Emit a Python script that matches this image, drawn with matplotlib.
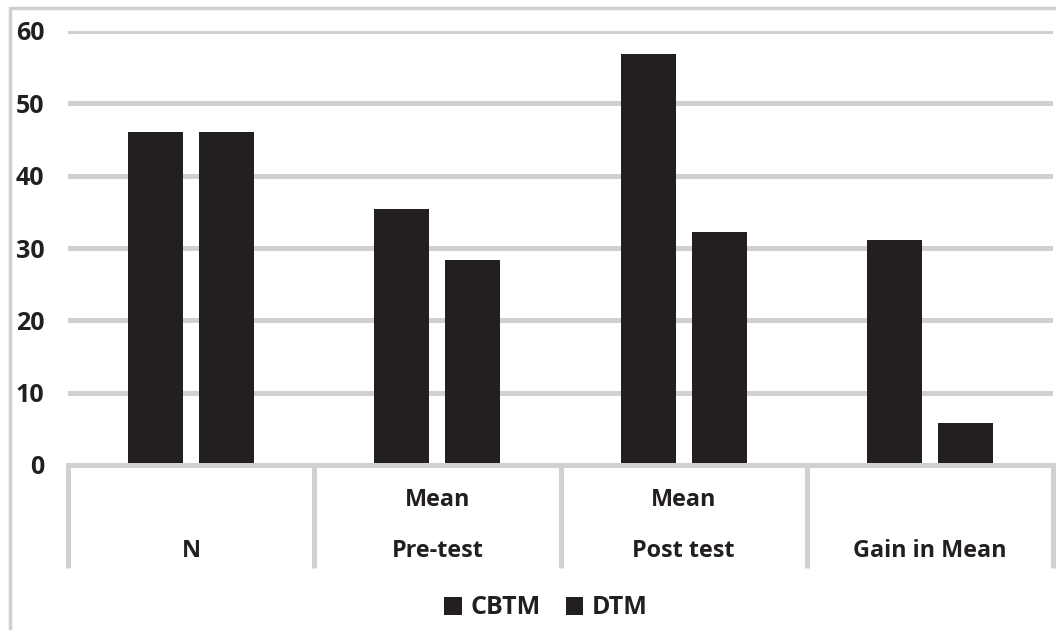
import matplotlib
matplotlib.use("Agg")
import matplotlib.pyplot as plt
from matplotlib.patches import Patch, Rectangle
import numpy as np

cat_top = ["", "Mean", "Mean", ""]
cat_bottom = ["N", "Pre-test", "Post test", "Gain in Mean"]
series_names = ["CBTM", "DTM"]
cbtm = [46, 35.4, 56.8, 31.1]
dtm = [46, 28.4, 32.2, 5.8]
yticks = [0, 10, 20, 30, 40, 50, 60]

plt.rcParams['font.family'] = ['Open Sans', 'DejaVu Sans']
bar_color = "#231F20"
grid_color = "#D0D0D0"
text_color = "#231F20"

fig = plt.figure(figsize=(10.56, 6.30), dpi=100)
W, H = 1056, 630
ax = fig.add_axes([68 / W, (H - 465) / H, 985 / W, (465 - 31) / H])

x = np.arange(len(cat_bottom))
bw = 0.223
off = 0.144
ax.bar(x - off, cbtm, width=bw, color=bar_color, zorder=3)
ax.bar(x + off, dtm, width=bw, color=bar_color, zorder=3)

ax.set_xlim(-0.5, len(cat_bottom) - 0.5)
ax.set_ylim(0, 60)
ax.set_yticks(yticks)
ax.set_yticklabels([str(v) for v in yticks], fontsize=18, fontweight='bold', color=text_color)
ax.tick_params(axis='y', length=0, pad=17)
ax.set_xticks([])
for s in ax.spines.values():
    s.set_visible(False)
for v in yticks[1:]:
    ax.axhline(v, color=grid_color, lw=3.6, zorder=1)
ax.axhline(0, color=grid_color, lw=3.6, zorder=4, clip_on=False)

# category separators
sep_bottom = -(568 - 465) / 434
for b in np.arange(-0.5, len(cat_bottom), 1.0):
    ax.plot([b, b], [0, sep_bottom], transform=ax.get_xaxis_transform(),
            color=grid_color, lw=3.6, clip_on=False, solid_capstyle='butt')

for i in range(len(cat_bottom)):
    if cat_top[i]:
        ax.text(x[i], -(500 - 465) / 434, cat_top[i], transform=ax.get_xaxis_transform(),
                ha='center', va='center', fontsize=16.8, fontweight='bold', color=text_color)
    ax.text(x[i], -(551 - 465) / 434, cat_bottom[i], transform=ax.get_xaxis_transform(),
            ha='center', va='center', fontsize=16.8, fontweight='bold', color=text_color)

# outer frame
fig.patches.append(Rectangle((10 / W, -0.1), 1.2, 1 - 8 / H + 0.1, transform=fig.transFigure,
                             fill=False, edgecolor=grid_color, lw=2.5))

handles = [Patch(facecolor=bar_color, edgecolor='none', label=n) for n in series_names]
leg = fig.legend(handles=handles, loc='center', bbox_to_anchor=(546 / W, 1 - 608 / H), ncol=2,
                 frameon=False, handlelength=0.7, handleheight=0.7, handletextpad=0.35,
                 columnspacing=1.0, prop={'size': 18, 'weight': 'bold'})
for t in leg.get_texts():
    t.set_color(text_color)

fig.savefig("out.png", dpi=100)
